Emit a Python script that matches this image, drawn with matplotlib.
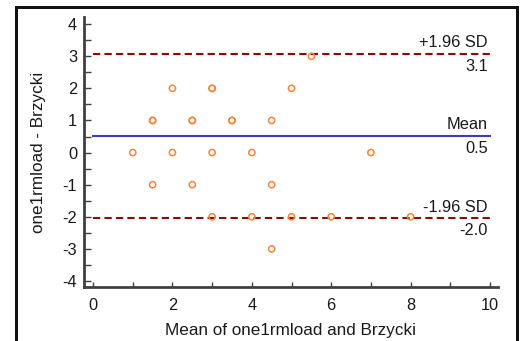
import matplotlib
matplotlib.use('Agg')
import matplotlib.pyplot as plt
from matplotlib.patches import Rectangle
from matplotlib.ticker import MultipleLocator

plt.rcParams['font.family'] = ['Liberation Sans', 'DejaVu Sans']
plt.rcParams['axes.unicode_minus'] = False

# Bland-Altman data (mean of methods, difference)
means = [1, 1.5, 1.5, 1.5, 2, 2, 2.5, 2.5, 2.5, 3, 3, 3, 3, 3.5, 3.5,
         4, 4, 4.5, 4.5, 4.5, 5, 5, 5.5, 6, 7, 8]
diffs = [0, 1, 1, -1, 2, 0, 1, 1, -1, 2, 2, 0, -2, 1, 1,
         0, -2, 1, -1, -3, 2, -2, 3, -2, 0, -2]
mean_diff = 0.51
upper_loa = 3.07
lower_loa = -2.05
line_labels = ['+1.96 SD', 'Mean', '-1.96 SD']
value_labels = ['3.1', '0.5', '-2.0']

W, H = 528, 341
fig = plt.figure(figsize=(W / 100, H / 100), dpi=100)
ax = fig.add_axes([0.159, 0.158, 0.784, 0.792])

# outer frame (runs off the bottom edge), drawn as filled bars in pixel units
for x0, y0, w, h in [(15, 0, 3, H - 6),
                     (516, 0, 3, H - 6),
                     (15, H - 9, 252, 3),
                     (267, H - 9, 252, 3)]:
    fig.add_artist(Rectangle((x0 / W, y0 / H), w / W, h / H, transform=fig.transFigure,
                             facecolor='#111111', edgecolor='none'))

ax.plot([0, 10], [upper_loa, upper_loa], color='#8b0a0a', linestyle=(0, (3.5, 2)), linewidth=1.5)
ax.plot([0, 10], [lower_loa, lower_loa], color='#8b0a0a', linestyle=(0, (3.5, 2)), linewidth=1.5)
ax.plot([0, 10], [mean_diff, mean_diff], color='#3c3cb4', linewidth=1.5)

ax.scatter(means, diffs, s=20, facecolors='none', edgecolors='#f5843c', linewidths=1.1, zorder=3)

for y, top, bottom in zip([upper_loa, mean_diff, lower_loa], line_labels, value_labels):
    ax.text(9.95, y + 0.12, top, ha='right', va='bottom', fontsize=11.8, color='#1a1a1a')
    ax.text(9.95, y - 0.15, bottom, ha='right', va='top', fontsize=11.8, color='#1a1a1a')

ax.set_xlim(-0.23, 10.2)
ax.set_ylim(-4.19, 4.22)
ax.xaxis.set_major_locator(MultipleLocator(2))
ax.xaxis.set_minor_locator(MultipleLocator(1))
ax.yaxis.set_major_locator(MultipleLocator(1))
ax.yaxis.set_minor_locator(MultipleLocator(0.5))
ax.tick_params(axis='both', which='both', direction='in', color='#404040', width=1, labelsize=11.8,
               labelcolor='#1a1a1a')
ax.tick_params(axis='y', which='both', length=5, pad=5)
ax.tick_params(axis='x', which='both', length=3.5, pad=8)

for side in ['top', 'right']:
    ax.spines[side].set_visible(False)
for side in ['left', 'bottom']:
    ax.spines[side].set_color('#404040')
    ax.spines[side].set_linewidth(2)

ax.set_xlabel('Mean of one1rmload and Brzycki', fontsize=12.3, color='#1a1a1a', labelpad=7)
ax.set_ylabel('one1rmload - Brzycki', fontsize=12.3, color='#1a1a1a', labelpad=12)

fig.savefig('out.png', dpi=100)
